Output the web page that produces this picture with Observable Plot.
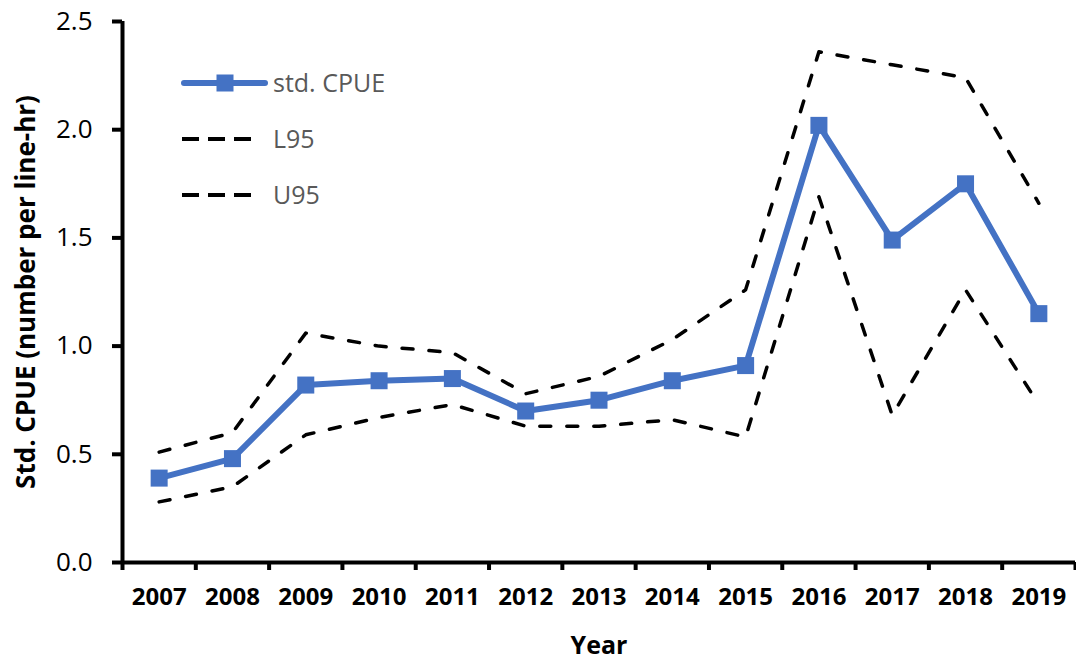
<!DOCTYPE html>
<html>
<head>
<meta charset="utf-8">
<script src="https://cdn.jsdelivr.net/npm/d3@7"></script>
<script src="https://cdn.jsdelivr.net/npm/@observablehq/plot@0.6"></script>
<style>
  html, body { margin: 0; padding: 0; background: #fff; }
  #wrap { position: relative; width: 1076px; height: 662px; font-family: "Open Sans", sans-serif; }
  #legend { position: absolute; left: 0; top: 0; pointer-events: none; }
</style>
</head>
<body>
<div id="wrap"></div>
<script>
const years = [2007, 2008, 2009, 2010, 2011, 2012, 2013, 2014, 2015, 2016, 2017, 2018, 2019];
const stdCPUE = [0.39, 0.48, 0.82, 0.84, 0.85, 0.70, 0.75, 0.84, 0.91, 2.02, 1.49, 1.75, 1.15];
const L95 = [0.28, 0.35, 0.59, 0.67, 0.73, 0.63, 0.63, 0.66, 0.58, 1.69, 0.68, 1.26, 0.73];
const U95 = [0.51, 0.60, 1.06, 1.00, 0.97, 0.78, 0.86, 1.03, 1.26, 2.36, 2.30, 2.24, 1.66];
const yTicks = [0, 0.5, 1.0, 1.5, 2.0, 2.5];
const seriesNames = ["std. CPUE", "L95", "U95"];
const yTitle = "Std. CPUE (number per line-hr)";
const xTitle = "Year";

const rows = years.map((y, i) => ({year: y, cpue: stdCPUE[i], lo: L95[i], hi: U95[i]}));
const bounds = d3.range(years[0] - 0.5, years[years.length - 1] + 1, 1);

const blue = "#4472C4";
const font = "'Open Sans', sans-serif";

const chart = Plot.plot({
  width: 1076,
  height: 662,
  marginLeft: 122,
  marginRight: 1,
  marginTop: 21,
  marginBottom: 100,
  style: {fontFamily: font, color: "#000", background: "#fff", overflow: "visible"},
  x: {domain: [bounds[0], bounds[bounds.length - 1]], axis: null},
  y: {domain: [0, 2.5], axis: null},
  marks: [
    Plot.axisY({ticks: yTicks, tickSize: 10, tickPadding: 20, strokeWidth: 4, fontSize: 26,
      tickFormat: d => d.toFixed(1), label: null}),
    Plot.axisX({ticks: bounds, tickSize: 8, strokeWidth: 4, tickFormat: () => "", label: null}),
    Plot.axisX({ticks: years, tickSize: 0, tickPadding: 25, fontSize: 24, fontWeight: "bold",
      tickFormat: d => String(d), label: null}),
    Plot.ruleX([bounds[0]], {y1: 0, y2: 2.5, stroke: "#000", strokeWidth: 4}),
    Plot.ruleY([0], {stroke: "#000", strokeWidth: 4}),
    Plot.line(rows, {x: "year", y: "lo", stroke: "#000", strokeWidth: 3.5,
      strokeDasharray: "11,16", strokeLinecap: "round", strokeLinejoin: "round"}),
    Plot.line(rows, {x: "year", y: "hi", stroke: "#000", strokeWidth: 3.5,
      strokeDasharray: "11,16", strokeLinecap: "round", strokeLinejoin: "round"}),
    Plot.line(rows, {x: "year", y: "cpue", stroke: blue, strokeWidth: 6, strokeLinejoin: "round"}),
    Plot.dot(rows, {x: "year", y: "cpue", symbol: "square", r: 9.6, fill: blue, stroke: "none"}),
    Plot.text([xTitle], {frameAnchor: "bottom", dy: 91, fontSize: 25, fontWeight: "bold", fill: "#000"}),
    Plot.text([yTitle], {frameAnchor: "left", dx: -96, rotate: -90, textAnchor: "middle",
      fontSize: 26, fontWeight: "bold", fill: "#000"})
  ]
});

const wrap = document.getElementById("wrap");
wrap.appendChild(chart);

// Legend (inside plot area, top-left)
const leg = d3.create("svg").attr("id", "legend").attr("width", 420).attr("height", 230)
  .style("font-family", font);
const items = [
  {name: seriesNames[0], y: 83, kind: "solid"},
  {name: seriesNames[1], y: 139, kind: "dash"},
  {name: seriesNames[2], y: 195, kind: "dash"}
];
for (const it of items) {
  if (it.kind === "solid") {
    leg.append("line").attr("x1", 184).attr("x2", 265).attr("y1", it.y).attr("y2", it.y)
      .attr("stroke", blue).attr("stroke-width", 6).attr("stroke-linecap", "round");
    leg.append("rect").attr("x", 225 - 8.5).attr("y", it.y - 8.5).attr("width", 17).attr("height", 17)
      .attr("fill", blue);
  } else {
    leg.append("line").attr("x1", 182).attr("x2", 251).attr("y1", it.y).attr("y2", it.y)
      .attr("stroke", "#000").attr("stroke-width", 4).attr("stroke-dasharray", "17,9");
  }
  leg.append("text").attr("x", 273).attr("y", it.y + 9).attr("font-size", 25)
    .attr("fill", "#595959").text(it.name);
}
wrap.appendChild(leg.node());
</script>
</body>
</html>
